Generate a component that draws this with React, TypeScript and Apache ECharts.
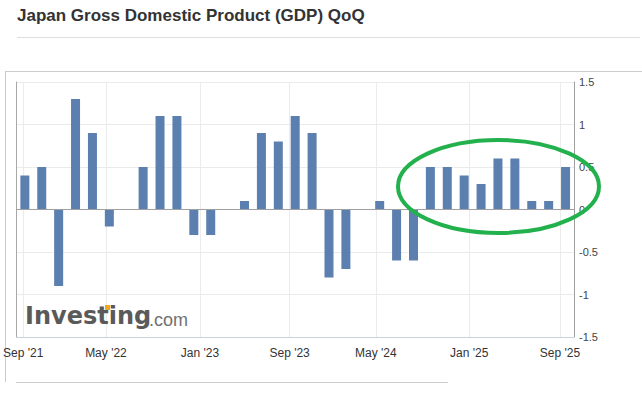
import React, { useEffect, useRef } from "react";
import * as echarts from "echarts";

// Release months (each bar is one GDP release, preliminary or revised)
const releases = [
  "Sep '21", "Nov '21", "Dec '21", "Feb '22", "Mar '22", "May '22", "Jun '22", "Aug '22",
  "Sep '22", "Nov '22", "Dec '22", "Feb '23", "Mar '23", "May '23", "Jun '23", "Aug '23",
  "Sep '23", "Nov '23", "Dec '23", "Feb '24", "Mar '24", "May '24", "Jun '24", "Aug '24",
  "Sep '24", "Nov '24", "Dec '24", "Feb '25", "Mar '25", "May '25", "Jun '25", "Aug '25",
  "Sep '25",
];
const gdpQoQ = [
  0.4, 0.5, -0.9, 1.3, 0.9, -0.2, 0, 0.5, 1.1, 1.1, -0.3, -0.3, 0, 0.1, 0.9, 0.8,
  1.1, 0.9, -0.8, -0.7, 0, 0.1, -0.6, -0.6, 0.5, 0.5, 0.4, 0.3, 0.6, 0.6, 0.1, 0.1,
  0.5,
];
// Date tick labels and their positions on the release (ordinal) scale
const tickLabels = ["Sep '21", "May '22", "Jan '23", "Sep '23", "May '24", "Jan '25", "Sep '25"];
const tickPositions = [-0.1, 4.8, 10.36, 15.67, 20.77, 26.3, 31.67];

const FONT = "'Liberation Sans', Arial, Helvetica, sans-serif";

export default function App() {
  const ref = useRef<HTMLDivElement>(null);
  useEffect(() => {
    document.body.style.margin = "0";
    const chart = echarts.init(ref.current!, null, { renderer: "svg" });
    chart.setOption({
      animation: false,
      backgroundColor: "#ffffff",
      grid: { left: 15, right: 68, top: 82, bottom: 61, containLabel: false },
      xAxis: [
        {
          type: "category",
          data: releases,
          boundaryGap: true,
          position: "bottom",
          axisLine: { show: true, onZero: true, lineStyle: { color: "#a0a0a0", width: 1 } },
          axisTick: { show: false },
          axisLabel: { show: false },
          splitLine: { show: false },
          z: 5,
        },
        {
          type: "value",
          min: -0.5,
          max: 32.5,
          position: "bottom",
          axisLine: { show: true, onZero: false, lineStyle: { color: "#c8d3e0", width: 1 } },
          axisTick: { show: false, customValues: tickPositions },
          axisLabel: {
            show: true,
            customValues: tickPositions,
            margin: 10,
            fontSize: 12,
            color: "#333333",
            fontFamily: FONT,
            formatter: (v: number) => {
              const i = tickPositions.findIndex((p) => Math.abs(p - v) < 1e-6);
              return i >= 0 ? tickLabels[i] : "";
            },
          },
          splitLine: { show: true, lineStyle: { color: "#ebebeb", width: 1 } },
        },
      ],
      yAxis: [
        {
          type: "value",
          position: "right",
          min: -1.5,
          max: 1.5,
          interval: 0.5,
          axisLine: { show: true, onZero: false, lineStyle: { color: "#a0a0a0" } },
          axisTick: { show: false },
          axisLabel: { margin: 5, fontSize: 11, color: "#444444", fontFamily: FONT },
          splitLine: { show: true, lineStyle: { color: "#ebebeb", width: 1 } },
        },
        {
          type: "value",
          position: "left",
          min: -1.5,
          max: 1.5,
          interval: 0.5,
          axisLine: { show: true, onZero: false, lineStyle: { color: "#a8a8a8" } },
          axisTick: { show: false },
          axisLabel: { show: false },
          splitLine: { show: false },
        },
      ],
      series: [
        {
          type: "bar",
          xAxisIndex: 0,
          yAxisIndex: 0,
          data: gdpQoQ,
          barWidth: 9,
          itemStyle: { color: "#5b7fae" },
          z: 3,
        },
      ],
      graphic: [
        {
          type: "text",
          x: 17,
          y: 15,
          style: {
            text: "Japan Gross Domestic Product (GDP) QoQ",
            font: `bold 17px ${FONT}`,
            fill: "#333333",
            verticalAlign: "middle",
          },
        },
        { type: "line", shape: { x1: 17, y1: 37.5, x2: 640, y2: 37.5 }, style: { stroke: "#dddddd", lineWidth: 1 } },
        { type: "line", shape: { x1: 5, y1: 71.5, x2: 642, y2: 71.5 }, style: { stroke: "#cccccc", lineWidth: 1 } },
        { type: "line", shape: { x1: 5.5, y1: 71, x2: 5.5, y2: 382 }, style: { stroke: "#cccccc", lineWidth: 1 } },
        { type: "line", shape: { x1: 16, y1: 382.5, x2: 448, y2: 382.5 }, style: { stroke: "#cccccc", lineWidth: 1 } },
        {
          type: "text",
          x: 25,
          y: 316,
          style: {
            text: "Investing",
            font: `bold 24px 'DejaVu Sans', ${FONT}`,
            fill: "#5a5a5a",
            verticalAlign: "middle",
          },
          z: 1,
        },
        { type: "rect", shape: { x: 105, y: 305, width: 5, height: 5 }, style: { fill: "#f5a623" }, z: 2 },
        {
          type: "text",
          x: 149,
          y: 320,
          style: {
            text: ".com",
            font: `18px ${FONT}`,
            fill: "#707070",
            verticalAlign: "middle",
          },
          z: 1,
        },
        {
          type: "ellipse",
          shape: { cx: 498.5, cy: 186.5, rx: 100.5, ry: 46.5 },
          style: { fill: "none", stroke: "#22b14c", lineWidth: 4 },
          z: 100,
        },
      ],
    });
    return () => chart.dispose();
  }, []);
  return <div ref={ref} style={{ width: 642, height: 398, position: "absolute", left: 0, top: 0 }} />;
}
